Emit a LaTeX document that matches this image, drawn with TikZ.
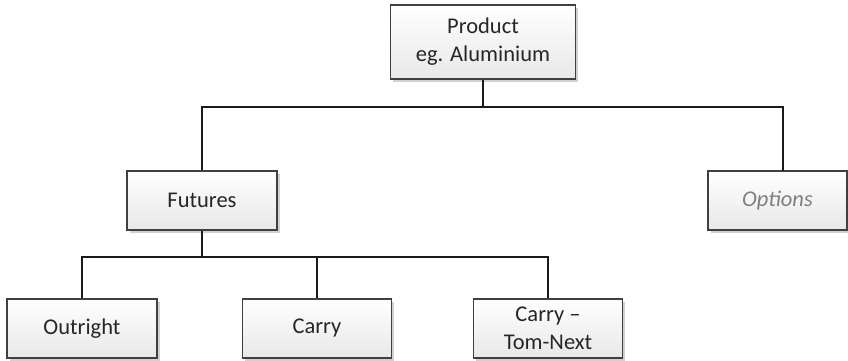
\documentclass[tikz,border=0pt]{standalone}
\usepackage{fontspec}
\setmainfont{Carlito}
\usetikzlibrary{shadows}
\definecolor{boxline}{HTML}{404040}
\definecolor{txt}{HTML}{262626}
\definecolor{opttxt}{HTML}{7F7F7F}
\definecolor{conn}{HTML}{1A1A1A}
\tikzset{
  box/.style={draw=boxline, line width=1.4pt, top color=white, bottom color=black!9,
    inner sep=0pt, align=center, text=txt,
    font=\fontsize{22.5}{28}\selectfont,
    drop shadow={shadow xshift=2.5pt, shadow yshift=-2.5pt, opacity=0.18, fill=black}},
  conline/.style={draw=conn, line width=1.4pt}
}
\begin{document}
\begin{tikzpicture}[x=1pt,y=-1pt]
\useasboundingbox (0,0) rectangle (848,360);
\node[box, minimum width=185pt, minimum height=74pt] (prod) at (483,42) {Product\\eg. Aluminium};
\node[box, minimum width=150pt, minimum height=59pt] (fut) at (202,200.5) {Futures};
\node[box, minimum width=139pt, minimum height=59pt, text=opttxt, font=\fontsize{22.5}{28}\selectfont\itshape] (opt) at (777.5,200.5) {Options};
\node[box, minimum width=150pt, minimum height=59pt] (out) at (82,328.5) {Outright};
\node[box, minimum width=149pt, minimum height=59pt] (car) at (317,328.5) {Carry};
\node[box, minimum width=149pt, minimum height=59pt] (ctn) at (548,328.5) {Carry --\\Tom-Next};
\coordinate (b1) at (483,107);
\coordinate (ot) at (783,171);
\coordinate (b2) at (202,257);
\draw[conline] (prod.south) -- (b1);
\draw[conline] (fut.north) |- (b1) -| (ot);
\draw[conline] (fut.south) -- (b2);
\draw[conline] (out.north) |- (b2) -| (ctn.north);
\draw[conline] (car.north) -- (car.north |- b2);
\end{tikzpicture}
\end{document}
